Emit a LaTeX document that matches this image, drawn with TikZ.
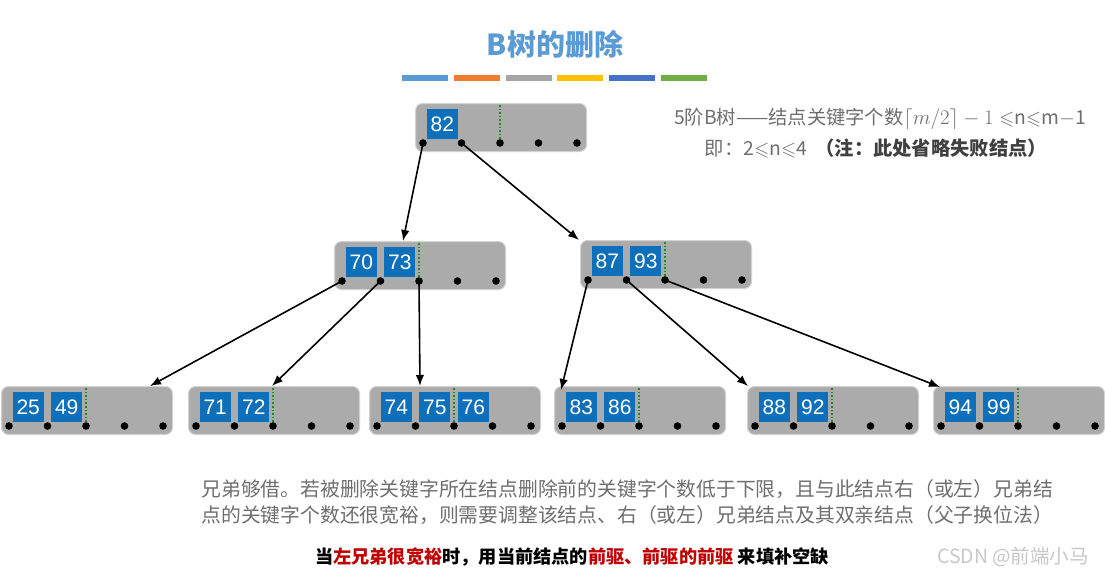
\documentclass[tikz,border=0pt]{standalone}
\usepackage{fontspec}
\usepackage{amssymb}
\setmainfont{Liberation Sans}
\newfontfamily\cjk{Noto Sans CJK SC}
\usetikzlibrary{arrows.meta,positioning,calc}
\definecolor{btgray}{HTML}{ABABAB}
\definecolor{btedge}{HTML}{D2D2D2}
\definecolor{btkey}{HTML}{0E70BA}
\definecolor{btgreen}{HTML}{1E8A1E}
\definecolor{bttitle}{HTML}{5B9BD5}
\definecolor{bttext}{HTML}{6E6E6E}
\definecolor{btdark}{HTML}{404040}
\definecolor{btred}{HTML}{C00000}
\definecolor{barblue}{HTML}{5B9BD5}
\definecolor{barorange}{HTML}{ED7D31}
\definecolor{bargray}{HTML}{A5A5A5}
\definecolor{baryellow}{HTML}{FFC000}
\definecolor{bardblue}{HTML}{4472C4}
\definecolor{bargreen}{HTML}{70AD47}
\tikzset{
  bnode/.style={draw=btedge, line width=1pt, fill=btgray, rounded corners=7pt, minimum width=171pt, minimum height=48pt, inner sep=0pt, anchor=north west},
  keybox/.style={fill=btkey, text=white, minimum width=31pt, minimum height=30pt, inner sep=0pt, font=\fontsize{21}{21}\selectfont},
  sepline/.style={draw=btgreen, line width=1.6pt, dotted},
  arr/.style={-{Latex[length=11pt,width=8.5pt]}, line width=1.6pt},
  bar/.style={line width=6pt}
}
% one B-tree node: name, left x, top y, keys
\newcommand{\btnode}[4]{%
  \node[bnode] (#1) at (#2,#3) {};
  \foreach \j in {0,...,4}
    \coordinate (#1-p\j) at ([xshift={(8+38.5*\j)*1pt}, yshift=-40pt]#1.north west);
  \draw[sepline] ([xshift=85pt, yshift=-2pt]#1.north west) -- (#1-p2);
  \foreach \k [count=\i from 0] in {#4}
    \node[keybox] (#1-k\i) at ([xshift={(27.25+38.5*\i)*1pt}, yshift=-21pt]#1.north west) {\k};
  \foreach \j in {0,...,4}
    \fill (#1-p\j) circle (3.8pt);
}

\begin{document}
\begin{tikzpicture}[x=1pt, y=-1pt]
\useasboundingbox (0,0) rectangle (1105,578);

% title
\node[font=\cjk\bfseries\fontsize{29}{29}\selectfont, text=bttitle] (title) at (555,44) {B树的删除};
\foreach \c [count=\i from 0] in {barblue,barorange,bargray,baryellow,bardblue,bargreen}
  \draw[bar, \c] ({402+51.8*\i},78) -- ++(46,0);

% tree
\btnode{root}{415}{103}{82}
\btnode{ml}{334}{241}{70,73}
\btnode{mr}{580}{240}{87,93}
\btnode{b1}{1}{386}{25,49}
\btnode{b2}{188}{386}{71,72}
\btnode{b3}{369}{386}{74,75,76}
\btnode{b4}{554}{386}{83,86}
\btnode{b5}{747}{386}{88,92}
\btnode{b6}{933}{386}{94,99}

\draw[arr] (root-p0) -- ([xshift=69pt]ml.north west);
\draw[arr] (root-p1) -- ([xshift=-1pt]mr.north west);
\draw[arr] (ml-p0) -- ([xshift=149pt]b1.north west);
\draw[arr] (ml-p1) -- ([xshift=84pt]b2.north west);
\draw[arr] (ml-p2) -- ([xshift=51pt]b3.north west);
\draw[arr] (mr-p0) -- ([xshift=7pt, yshift=-4pt]b4.north west);
\draw[arr] (mr-p1) -- ([xshift=1pt]b5.north west);
\draw[arr] (mr-p2) -- ([xshift=7pt, yshift=-1pt]b6.north west);

% notes
\node[font=\cjk\fontsize{19.3}{19}\selectfont, text=bttext] (rule) at (880,119)
  {5阶B树——结点关键字个数$\lceil m/2\rceil-1\leqslant$n$\leqslant$m$-$1};
\node[font=\cjk\fontsize{19.3}{19}\selectfont, text=bttext] (note) at (876,148)
  {即：2$\leqslant$n$\leqslant$4\ \ {\bfseries\color{btdark}（注：此处省略失败结点）}};

\node[font=\cjk\fontsize{19.8}{20}\selectfont, text=bttext, anchor=west] (para1) at (198,489)
  {兄弟够借。若被删除关键字所在结点删除前的关键字个数低于下限，且与此结点右（或左）兄弟结};
\node[font=\cjk\fontsize{19.8}{20}\selectfont, text=bttext, anchor=west] (para2) at (198,515)
  {点的关键字个数还很宽裕，则需要调整该结点、右（或左）兄弟结点及其双亲结点（父子换位法）};

\node[font=\cjk\bfseries\fontsize{18.2}{18}\selectfont] (hint) at (572,557)
  {当\textcolor{btred}{左兄弟很宽裕}时，用当前结点的\textcolor{btred}{前驱、前驱的前驱} 来填补空缺};

\node[font=\cjk\fontsize{19.5}{19}\selectfont, text=black!22] (mark) at (1013,557) {CSDN @前端小马};
\end{tikzpicture}
\end{document}
